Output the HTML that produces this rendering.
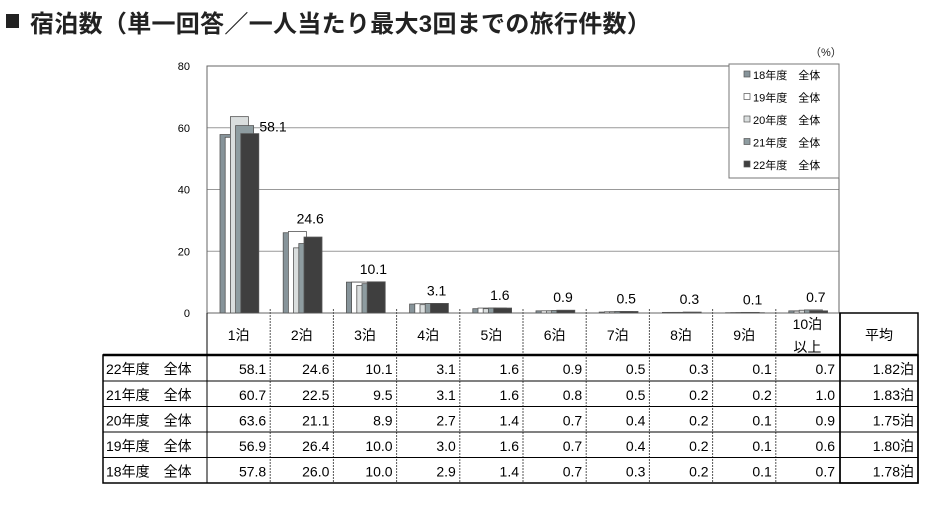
<!DOCTYPE html>
<html><head><meta charset="utf-8"><style>
body{margin:0;background:#fff;width:939px;height:501px;overflow:hidden;font-family:"Liberation Sans","Noto Sans CJK JP",sans-serif}
</style></head><body>
<svg id="s" width="939" height="501" xmlns="http://www.w3.org/2000/svg" font-family="Liberation Sans, Noto Sans CJK JP, sans-serif">
<rect x="6" y="14" width="13" height="14" fill="#222"/>
<text x="30" y="32" font-size="24" font-weight="bold" fill="#222" letter-spacing="0.3">宿泊数（単一回答／一人当たり最大3回までの旅行件数）</text>
<text x="810" y="56" font-size="11" fill="#222">（%）</text>
</svg>
<script>
const s=document.getElementById('s');
let h='';
const X0=207,X1=839,Y0=313,k=3.0875,cw=63.2;
[20,40,60,80].forEach(v=>{const y=Y0-v*k;h+=`<line x1="${X0}" x2="${X1}" y1="${y}" y2="${y}" stroke="#999" stroke-width="1"/>`});
h+=`<rect x="${X0}" y="66" width="${X1-X0}" height="${Y0-66}" fill="none" stroke="#666"/>`;
[0,20,40,60,80].forEach(v=>{h+=`<text x="190" y="${Y0-v*k+4}" font-size="11" text-anchor="end">${v}</text>`});
const d={18:[57.8,26.0,10.0,2.9,1.4,0.7,0.3,0.2,0.1,0.7],19:[56.9,26.4,10.0,3.0,1.6,0.7,0.4,0.2,0.1,0.6],20:[63.6,21.1,8.9,2.7,1.4,0.7,0.4,0.2,0.1,0.9],21:[60.7,22.5,9.5,3.1,1.6,0.8,0.5,0.2,0.2,1.0],22:[58.1,24.6,10.1,3.1,1.6,0.9,0.5,0.3,0.1,0.7]};
const col={18:'#87949a',19:'#fff',20:'#dadede',21:'#8e9ca0',22:'#3f3f3f'};
const yrs=[18,19,20,21,22];
for(let c=0;c<10;c++){const gx=X0+c*cw;
 yrs.forEach((y,i)=>{const v=d[y][c],bh=v*k;h+=`<rect x="${gx+13+i*5.2}" y="${Y0-bh}" width="18" height="${bh}" fill="${col[y]}" stroke="#555" stroke-width="0.8"/>`});
 const mx=Math.max(...yrs.map(y=>d[y][c]));
 h+=`<text x="${gx+(c==0?66:40)}" y="${Y0-(c==0?58.1:mx)*k-(c==0?2:8)}" font-size="14" text-anchor="middle">${d[22][c].toFixed(1)}</text>`;
}
h+=`<rect x="729" y="64" width="110" height="114" fill="#fff" stroke="#777"/>`;
yrs.forEach((y,i)=>{const yy=75+i*22.5;h+=`<rect x="744" y="${yy-4}" width="6" height="6" fill="${col[y]}" stroke="#555" stroke-width="0.7"/><text x="753" y="${yy+4}" font-size="11">${y}年度　全体</text>`});
const rows=[[22,58.1,24.6,10.1,3.1,1.6,0.9,0.5,0.3,0.1,0.7,'1.82'],[21,60.7,22.5,9.5,3.1,1.6,0.8,0.5,0.2,0.2,1.0,'1.83'],[20,63.6,21.1,8.9,2.7,1.4,0.7,0.4,0.2,0.1,0.9,'1.75'],[19,56.9,26.4,10.0,3.0,1.6,0.7,0.4,0.2,0.1,0.6,'1.80'],[18,57.8,26.0,10.0,2.9,1.4,0.7,0.3,0.2,0.1,0.7,'1.78']];
const ry=[355,381,406.5,432,457.5,483];
const heads=['1泊','2泊','3泊','4泊','5泊','6泊','7泊','8泊','9泊'];
heads.forEach((t,i)=>{h+=`<text x="${X0+i*cw+cw/2}" y="340" font-size="14" text-anchor="middle">${t}</text>`});
h+=`<text x="${X0+9*cw+cw/2}" y="329" font-size="14" text-anchor="middle">10泊</text><text x="${X0+9*cw+cw/2}" y="352" font-size="14" text-anchor="middle">以上</text>`;
h+=`<text x="879" y="340" font-size="14" text-anchor="middle">平均</text>`;
for(let i=1;i<10;i++){const x=X0+i*cw;h+=`<line x1="${x}" x2="${x}" y1="${Y0-4}" y2="483" stroke="#555" stroke-dasharray="2,1"/>`}
h+=`<line x1="${X0}" x2="${X0}" y1="313" y2="483" stroke="#000"/><line x1="840" x2="840" y1="313" y2="483" stroke="#000" stroke-width="1.5"/>`;
h+=`<rect x="840" y="313" width="78" height="170" fill="none" stroke="#000" stroke-width="1.5"/>`;
h+=`<rect x="103" y="355" width="815" height="128" fill="none" stroke="#000" stroke-width="1.5"/>`;
h+=`<line x1="103" x2="918" y1="355" y2="355" stroke="#000" stroke-width="2.5"/>`;
for(let i=1;i<5;i++)h+=`<line x1="103" x2="918" y1="${ry[i]}" y2="${ry[i]}" stroke="#000"/>`;
rows.forEach((r,i)=>{const y=ry[i]+19;
 h+=`<text x="106" y="${y}" font-size="14">${r[0]}年度　全体</text>`;
 for(let c=0;c<10;c++)h+=`<text x="${X0+(c+1)*cw-4}" y="${y}" font-size="14" text-anchor="end">${r[c+1].toFixed(1)}</text>`;
 h+=`<text x="914" y="${y}" font-size="14" text-anchor="end">${r[11]}泊</text>`;
});
s.insertAdjacentHTML('beforeend',h);
</script>
</body></html>
